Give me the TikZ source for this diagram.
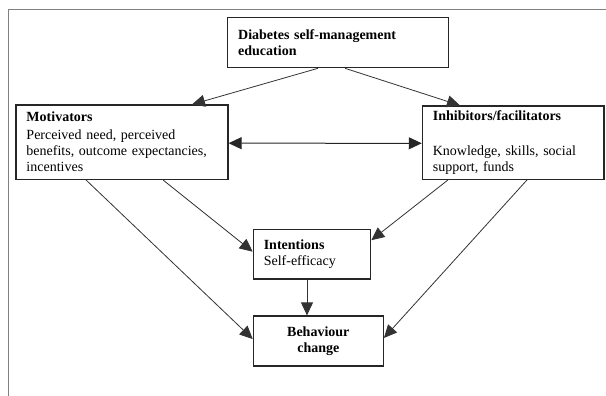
\documentclass[tikz,border=0pt]{standalone}
\usepackage{fontspec}
\setmainfont{Liberation Serif}
\usetikzlibrary{arrows.meta}
\begin{document}
\begin{tikzpicture}[x=1pt,y=-1pt,
  box/.style={draw=black!85,line width=1.2pt,rectangle,inner xsep=10.5pt,inner ysep=0pt,
    font=\fontsize{14}{16}\selectfont,align=left},
  arr/.style={draw=black!80,line width=0.8pt,-{Triangle[length=13pt,width=12pt]}},
  dbl/.style={draw=black!85,line width=1pt,{Triangle[length=13pt,width=12pt]}-{Triangle[length=13pt,width=12pt]}},
  frame/.style={draw=black!50,line width=1pt}]
\useasboundingbox (0,0) rectangle (606,396);
\coordinate (fbl) at (8.3,396);
\coordinate (ftl) at (8.3,10);
\coordinate (ftr) at (606,10);
\draw[frame] (fbl) -- (ftl) -- (ftr);

\node[box,minimum width=220.6pt,minimum height=50pt,text width=199.6pt] (dse) at (338,42.7)
  {\textbf{Diabetes self-management}\\\textbf{education}};
\node[box,minimum width=212pt,minimum height=74.3pt,text width=191pt] (mot) at (122,142.2)
  {\textbf{Motivators}\\[2pt]Perceived need, perceived\\benefits, outcome expectancies,\\incentives};
\node[box,minimum width=181.7pt,minimum height=73.3pt,text width=160.7pt] (inh) at (513.2,142.7)
  {\textbf{Inhibitors/facilitators}\\[19.6pt]Knowledge, skills, social\\support, funds};
\node[box,minimum width=117.4pt,minimum height=49.7pt,text width=96.4pt] (int) at (312,254.2)
  {\textbf{Intentions}\\Self-efficacy};
\node[box,minimum width=130pt,minimum height=50pt,text width=109pt,align=center] (beh) at (318.3,341)
  {\textbf{Behaviour}\\\textbf{change}};

\draw[arr] ([xshift=-20pt]dse.south) -- ([xshift=70pt]mot.north);
\draw[arr] ([xshift=7pt]dse.south) -- ([xshift=-53.2pt]inh.north);
\draw[dbl] ([yshift=-1pt]mot.east) -- ([yshift=-0.6pt]inh.west);
\draw[arr] ([xshift=41pt]mot.south) -- ([yshift=2.5pt]int.west);
\draw[arr] ([xshift=-36pt]mot.south) -- ([yshift=2pt]beh.west);
\draw[arr] ([xshift=-65.2pt]inh.south) -- ([yshift=14pt]int.east);
\draw[arr] ([xshift=13.8pt]inh.south) -- ([yshift=3pt]beh.east);
\draw[arr] ([xshift=-5pt]int.south) -- ([xshift=-5pt]int.south |- beh.north);
\end{tikzpicture}
\end{document}
